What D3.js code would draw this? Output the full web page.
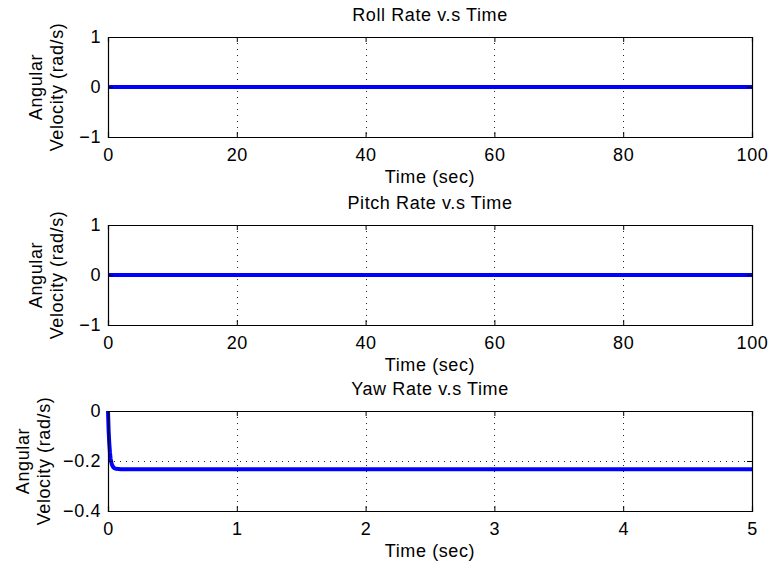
<!DOCTYPE html>
<html>
<head>
<meta charset="utf-8">
<script src="https://cdn.jsdelivr.net/npm/d3@7"></script>
<style>
  body { margin: 0; background: #fff; }
  text { font-family: "Liberation Sans", Arial, Helvetica, sans-serif; fill: #000; letter-spacing: 0.6px; }
</style>
</head>
<body>
<svg id="chart" width="772" height="570"></svg>
<script>
// values
var rollTime = [0, 20, 40, 60, 80, 100];
var rollRate = [0, 0, 0, 0, 0, 0];

var pitchTime = [0, 20, 40, 60, 80, 100];
var pitchRate = [0, 0, 0, 0, 0, 0];

var yawTime = [0, 0.005, 0.01, 0.015, 0.02, 0.025, 0.03, 0.04, 0.05, 0.06, 0.08, 0.1, 0.15, 0.2, 0.5, 1, 2, 3, 4, 5];
var yawRate = [0, -0.08, -0.13, -0.165, -0.19, -0.204, -0.214, -0.224, -0.229, -0.231, -0.232, -0.233, -0.233, -0.233, -0.233, -0.233, -0.233, -0.233, -0.233, -0.233];

var titles = ['Roll Rate v.s Time', 'Pitch Rate v.s Time', 'Yaw Rate v.s Time'];
var xTicks = [[0, 20, 40, 60, 80, 100], [0, 20, 40, 60, 80, 100], [0, 1, 2, 3, 4, 5]];
var yTicks = [[-1, 0, 1], [-1, 0, 1], [-0.4, -0.2, 0]];
var xDomains = [[0, 100], [0, 100], [0, 5]];
var yDomains = [[-1, 1], [-1, 1], [-0.4, 0]];

var svg = d3.select('#chart');
var left = 108, right = 752;
var tops = [37, 225, 411];
var h = 100;
var tickLen = 5;
// ylabel baseline (x) sits further left when tick labels are wider
var ylabX = [42, 42, 29];

var panels = [
  { t: rollTime, v: rollRate },
  { t: pitchTime, v: pitchRate },
  { t: yawTime, v: yawRate }
];

function fmt(d) {
  // matlab style minus sign
  return String(d).replace('-', '\u2212');
}

panels.forEach(function(p, i) {
  var top = tops[i], bottom = top + h;
  var x = d3.scaleLinear().domain(xDomains[i]).range([left, right]);
  var y = d3.scaleLinear().domain(yDomains[i]).range([bottom, top]);
  var g = svg.append('g');

  // dotted grid
  g.selectAll('.vgrid').data(xTicks[i]).enter().append('line')
    .attr('x1', function(d) { return Math.round(x(d)) + 0.5; })
    .attr('x2', function(d) { return Math.round(x(d)) + 0.5; })
    .attr('y1', top).attr('y2', bottom)
    .attr('stroke', '#222').attr('stroke-width', 1)
    .attr('stroke-dasharray', '1,5');
  g.selectAll('.hgrid').data(yTicks[i]).enter().append('line')
    .attr('y1', function(d) { return Math.round(y(d)) + 0.5; })
    .attr('y2', function(d) { return Math.round(y(d)) + 0.5; })
    .attr('x1', left).attr('x2', right)
    .attr('stroke', '#222').attr('stroke-width', 1)
    .attr('stroke-dasharray', '1,5');

  // data line
  var line = d3.line()
    .x(function(d, k) { return x(p.t[k]); })
    .y(function(d) { return y(d); });
  g.append('path')
    .datum(p.v)
    .attr('d', line)
    .attr('fill', 'none')
    .attr('stroke', '#0000ff')
    .attr('stroke-width', 4)
    .attr('stroke-linejoin', 'round');

  // axes with inward ticks on all four sides
  var bottomAx = d3.axisBottom(x).tickValues(xTicks[i]).tickSize(-tickLen).tickPadding(11).tickFormat(fmt);
  var topAx = d3.axisTop(x).tickValues(xTicks[i]).tickSize(-tickLen).tickFormat('');
  var leftAx = d3.axisLeft(y).tickValues(yTicks[i]).tickSize(-tickLen).tickPadding(7).tickFormat(fmt);
  var rightAx = d3.axisRight(y).tickValues(yTicks[i]).tickSize(-tickLen).tickFormat('');

  [[bottomAx, 'translate(0,' + bottom + ')'], [topAx, 'translate(0,' + top + ')'],
   [leftAx, 'translate(' + left + ',0)'], [rightAx, 'translate(' + right + ',0)']].forEach(function(a) {
    var ax = g.append('g').attr('transform', a[1]).call(a[0]);
    ax.select('.domain').attr('stroke', '#000').attr('stroke-width', 1.2);
    ax.selectAll('.tick line').attr('stroke', '#000');
    ax.selectAll('.tick text').attr('font-size', 18).attr('font-family', '"Liberation Sans", Arial, sans-serif').attr('fill', '#000');
  });

  // title
  svg.append('text')
    .attr('x', (left + right) / 2).attr('y', top - 16)
    .attr('text-anchor', 'middle').attr('font-size', 18)
    .text(titles[i]);

  // x label
  svg.append('text')
    .attr('x', (left + right) / 2).attr('y', bottom + 46)
    .attr('text-anchor', 'middle').attr('font-size', 18)
    .text('Time (sec)');

  // y label, two lines
  var ylab = svg.append('text')
    .attr('transform', 'translate(0,' + (top + h / 2) + ') rotate(-90)')
    .attr('text-anchor', 'middle').attr('font-size', 18);
  ylab.append('tspan').attr('x', 0).attr('y', ylabX[i]).text('Angular');
  ylab.append('tspan').attr('x', 0).attr('y', ylabX[i] + 21).text('Velocity (rad/s)');
});
</script>
</body>
</html>
